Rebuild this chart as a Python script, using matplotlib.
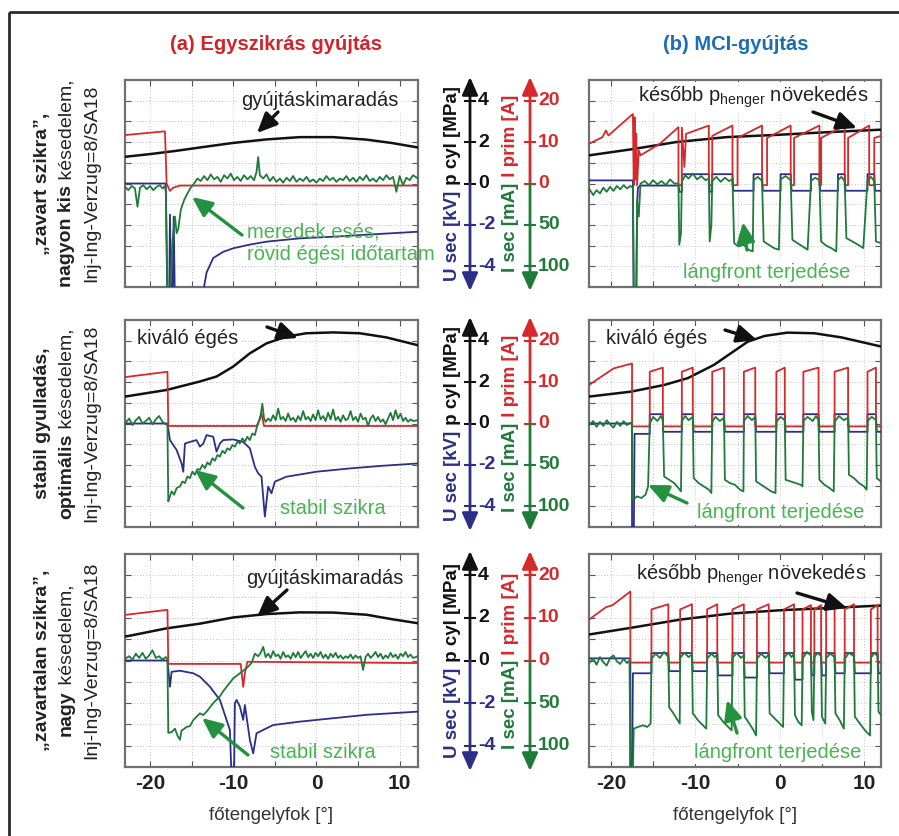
import matplotlib
matplotlib.use("Agg")
import matplotlib.pyplot as plt

plt.rcParams['font.family'] = ['Liberation Sans', 'DejaVu Sans']
plt.rcParams['axes.unicode_minus'] = False
plt.rcParams['mathtext.fontset'] = 'custom'
plt.rcParams['mathtext.rm'] = 'Liberation Sans'

# ---- data: (crank angle [deg], value) ----
# p cyl [MPa], I prim [A], I sec [mA] (down = positive), U sec [kV]

A1_PCYL = [(-23.0, 1.29), (-20.0, 1.42), (-17.0, 1.57), (-14.0, 1.74), (-10.0, 1.96), (-6.0, 2.13),
           (-2.0, 2.24), (2.0, 2.24), (6.0, 2.12), (9.0, 1.96), (12.2, 1.74)]
A1_IPRIM = [(-23.0, 11.7), (-18.2, 12.6), (-18.0, 0.0), (-17.6, -1.8), (-17.2, -1.0), (-16.4, -0.5), (12.2, -0.5)]
A1_ISEC = [(-23.0, 4), (-22.6, 8), (-22.2, 3), (-21.8, 6), (-21.5, 28), (-21.2, 5), (-20.8, 2), (-20.4, 7),
           (-20.0, 3), (-19.6, 8), (-19.2, 4), (-18.8, 2), (-18.5, 6), (-18.2, 3), (-18.1, 10), (-17.9, 130),
           (-17.6, 130), (-17.3, 70), (-17.0, 40), (-16.8, 60), (-16.6, 55), (-16.3, 32), (-15.9, 20),
           (-15.5, 12), (-15.1, 5), (-14.7, 0), (-14.3, -6), (-13.9, -3), (-13.5, -9), (-13.1, -4),
           (-12.7, -11), (-12.3, -5), (-11.9, -8), (-11.5, -2), (-11.1, -10), (-10.7, -6), (-10.3, -12),
           (-9.9, -4), (-9.5, -8), (-9.1, -3), (-8.7, -10), (-8.3, -5), (-7.9, -9), (-7.5, -4), (-7.2, -14),
           (-7.0, -32), (-6.8, -10), (-6.4, -6), (-6.0, -11), (-5.6, -3), (-5.2, -8), (-4.8, -2), (-4.4, -6),
           (-4.0, -1), (-3.6, -7), (-3.2, -3), (-2.8, -9), (-2.4, -2), (-2.0, -6), (-1.6, -3), (-1.2, -8),
           (-0.8, -2), (-0.4, -5), (0.0, -1), (0.4, -6), (0.8, -3), (1.2, -9), (1.6, -4), (2.0, -7), (2.4, -2),
           (2.8, -6), (3.2, -4), (3.6, -9), (4.0, -3), (4.4, -7), (4.8, -2), (5.2, -8), (5.6, -4), (6.0, -10),
           (6.4, -3), (6.8, -6), (7.2, -2), (7.6, -8), (8.0, -4), (8.4, -10), (8.8, -5), (9.2, -8), (9.6, 10),
           (10.0, -9), (10.4, 2), (10.8, -7), (11.2, -4), (11.6, -10), (12.2, -6)]
A1_USEC = [(-23.0, 0.0), (-18.1, 0.0), (-17.9, -6.0), (-17.7, -6.0), (-17.6, -1.5), (-17.45, -6.0), (-17.3, -6.0),
           (-17.15, -1.6), (-17.0, -6.0), (-13.7, -6.0), (-13.6, -5.2), (-13.2, -4.3), (-12.4, -3.6),
           (-11.2, -3.3), (-10.0, -3.13), (-8.0, -2.95), (-6.0, -2.81), (-2.0, -2.65), (2.0, -2.57),
           (7.0, -2.45), (12.2, -2.33)]

A2_PCYL = [(-23.0, 1.30), (-18.0, 1.62), (-14.0, 2.03), (-12.0, 2.27), (-10.0, 2.75), (-8.0, 3.39),
           (-6.0, 3.87), (-3.6, 4.20), (-1.2, 4.36), (2.0, 4.40), (5.2, 4.36), (8.4, 4.16), (12.2, 3.78)]
A2_IPRIM = [(-23.0, 11.2), (-17.9, 12.5), (-17.8, -0.6), (-7.2, -0.6), (-6.8, 1.0), (-6.6, 2.5),
            (-6.3, -0.6), (12.2, -0.6)]
A2_ISEC = [(-23.0, 0), (-22.5, -6), (-22.1, 2), (-21.7, -4), (-21.3, -8), (-20.9, 0), (-20.5, -3), (-20.1, -7),
           (-19.7, 1), (-19.3, -5), (-18.9, -9), (-18.5, -2), (-18.1, 1), (-17.9, 2), (-17.8, 94), (-17.6, 88),
           (-17.4, 82), (-17.1, 86), (-16.8, 78), (-16.4, 76), (-16.1, 70), (-15.8, 72), (-15.5, 64),
           (-15.2, 66), (-14.9, 58), (-14.6, 62), (-14.3, 55), (-14.0, 56), (-13.7, 50), (-13.4, 54),
           (-13.1, 47), (-12.8, 50), (-12.5, 42), (-12.2, 45), (-11.9, 38), (-11.6, 40), (-11.3, 33),
           (-11.0, 36), (-10.7, 30), (-10.4, 32), (-10.1, 26), (-9.8, 28), (-9.5, 22), (-9.2, 24), (-8.9, 18),
           (-8.6, 22), (-8.3, 16), (-8.0, 20), (-7.7, 12), (-7.4, 14), (-7.2, 6), (-7.0, 0), (-6.7, -10),
           (-6.5, -24), (-6.3, -6), (-6.1, -2), (-5.8, -6), (-5.5, -3), (-5.2, -10), (-4.9, -4), (-4.6, -18),
           (-4.3, -5), (-4.0, -8), (-3.7, -3), (-3.4, -12), (-3.1, -4), (-2.8, -7), (-2.5, -2), (-2.2, -9),
           (-1.9, -4), (-1.6, -15), (-1.3, -5), (-1.0, -8), (-0.7, -3), (-0.4, -11), (-0.1, -4), (0.2, -16),
           (0.5, -5), (0.8, -9), (1.1, -3), (1.4, -13), (1.7, -5), (2.0, -17), (2.3, -4), (2.6, -8), (2.9, -2),
           (3.2, -10), (3.5, -4), (3.8, -6), (4.1, -15), (4.4, -4), (4.7, -8), (5.0, -2), (5.3, -12), (5.6, -5),
           (5.9, -7), (6.2, 3), (6.5, -6), (6.8, -10), (7.1, -3), (7.4, -8), (7.7, -2), (8.0, -5), (8.3, 1),
           (8.6, -6), (8.9, -13), (9.2, -4), (9.5, -16), (9.8, -6), (10.1, -12), (10.4, -3), (10.7, -7),
           (11.0, -2), (11.3, -5), (11.6, -3), (12.2, -4)]
A2_USEC = [(-23.0, 0.0), (-17.9, 0.0), (-17.6, -0.80), (-16.8, -1.28), (-16.2, -1.93), (-16.0, -2.33),
           (-15.8, -0.97), (-15.2, -0.89), (-14.4, -0.80), (-14.0, -1.12), (-13.6, -0.97), (-13.2, -0.56),
           (-12.4, -0.64), (-12.0, -1.36), (-11.6, -0.97), (-11.2, -0.80), (-10.0, -0.77), (-8.8, -0.89),
           (-8.0, -1.20), (-7.4, -2.09), (-7.0, -2.41), (-6.6, -2.57), (-6.2, -4.50), (-5.8, -3.05),
           (-5.4, -3.37), (-5.0, -2.81), (-3.6, -2.57), (0.0, -2.33), (4.0, -2.17), (8.0, -2.04), (12.2, -1.93)]

A3_PCYL = [(-23.0, 1.13), (-22.6, 1.15), (-18.0, 1.51), (-14.0, 1.73), (-10.0, 2.02), (-6.0, 2.18),
           (-2.0, 2.26), (2.0, 2.25), (6.0, 2.15), (9.2, 1.93), (12.2, 1.75)]
A3_IPRIM = [(-23.0, 10.7), (-17.9, 11.9), (-17.8, -0.8), (-9.1, -0.8), (-8.8, -6.2), (-8.6, -3.0),
            (-8.3, -0.3), (12.2, -0.6)]
A3_ISEC = [(-23.0, -2), (-22.5, -5), (-22.1, -1), (-21.7, -8), (-21.3, -3), (-20.9, -9), (-20.5, -2),
           (-20.1, -6), (-19.7, -12), (-19.3, -3), (-18.9, -5), (-18.5, -1), (-18.1, -4), (-17.9, -2),
           (-17.8, 85), (-17.4, 84), (-17.0, 80), (-16.7, 88), (-16.4, 93), (-16.2, 82), (-16.0, 81),
           (-15.6, 78), (-15.2, 77), (-14.8, 70), (-14.4, 66), (-14.0, 62), (-13.6, 64), (-13.2, 60),
           (-12.8, 55), (-12.4, 50), (-12.0, 46), (-11.6, 42), (-11.2, 36), (-10.8, 31), (-10.4, 26),
           (-10.0, 21), (-9.6, 18), (-9.2, 15), (-8.8, 12), (-8.4, 9), (-8.1, 6), (-7.8, 3), (-7.4, -8),
           (-7.0, -5), (-6.7, -9), (-6.4, -16), (-6.1, -4), (-5.8, -8), (-5.5, -3), (-5.2, -11), (-4.9, -5),
           (-4.6, -7), (-4.3, -2), (-4.0, -10), (-3.7, -4), (-3.4, -6), (-3.1, -2), (-2.8, -9), (-2.5, -4),
           (-2.2, -10), (-1.9, -3), (-1.6, -7), (-1.3, -11), (-1.0, -4), (-0.7, -8), (-0.4, -3), (-0.1, -9),
           (0.2, -5), (0.5, -10), (0.8, -3), (1.1, -7), (1.4, -2), (1.7, -8), (2.0, -4), (2.3, -9), (2.6, -3),
           (2.9, -6), (3.2, -2), (3.5, -5), (3.8, -3), (4.1, -7), (4.4, -2), (4.7, -6), (5.0, -3), (5.3, -5),
           (5.6, 11), (5.9, -4), (6.2, -8), (6.5, -3), (6.8, -6), (7.1, -10), (7.4, -4), (7.7, -8), (8.0, -2),
           (8.3, -6), (8.6, -3), (8.9, -9), (9.2, -4), (9.5, -7), (9.8, -2), (10.1, -8), (10.4, -5),
           (10.7, -10), (11.0, -4), (11.3, -7), (11.6, -3), (12.2, -5)]
A3_USEC = [(-23.0, 0.0), (-17.9, 0.0), (-17.6, -1.23), (-17.4, -0.53), (-16.4, -0.48), (-14.8, -0.60),
           (-14.0, -0.76), (-12.8, -1.23), (-11.6, -1.85), (-10.8, -2.79), (-10.4, -3.26), (-10.2, -5.5),
           (-9.9, -5.5), (-9.8, -2.01), (-9.6, -1.85), (-9.2, -2.16), (-8.8, -2.79), (-8.6, -2.09),
           (-8.4, -2.63), (-8.0, -3.73), (-7.6, -4.36), (-7.2, -3.42), (-6.4, -3.26), (-5.2, -3.03),
           (-2.0, -2.87), (2.0, -2.71), (6.0, -2.55), (12.2, -2.40)]

B1_PCYL = [(-22.6, 1.36), (-17.6, 1.65), (-12.3, 2.00), (-6.3, 2.24), (-0.3, 2.35), (5.7, 2.48), (12.0, 2.60)]
B1_IPRIM = [(-22.6, 9.6), (-21.0, 11.2), (-20.6, 12.8), (-20.3, 11.6), (-17.4, 16.8), (-17.3, -0.4),
            (-17.2, 16.0), (-17.1, 1.0), (-17.0, 12.0), (-16.9, -0.4), (-16.7, 8.0), (-16.5, 6.8),
            (-14.2, 9.6), (-12.0, 13.6), (-12.0, -0.4), (-11.6, -0.4), (-11.6, 13.5), (-11.3, 4.0),
            (-11.1, 12.0), (-8.4, 14.0), (-8.4, -0.4), (-8.0, -0.4), (-8.0, 11.5), (-5.6, 14.0), (-5.6, -0.4),
            (-5.0, -0.4), (-5.0, 11.0), (-2.1, 14.0), (-2.1, -0.4), (-1.5, -0.4), (-1.5, 11.0), (1.3, 14.0),
            (1.3, -0.4), (1.7, -0.4), (1.7, 11.0), (4.7, 14.0), (4.7, -0.4), (4.9, -0.4), (4.9, 11.0),
            (7.7, 14.0), (7.7, -0.4), (8.1, -0.4), (8.1, 11.0), (10.6, 14.0), (10.6, -0.4), (11.2, -0.4),
            (11.2, 11.0), (12.0, 11.5)]
B1_ISEC = [(-22.6, 6), (-22.1, 14), (-21.7, 8), (-21.3, 12), (-20.9, 5), (-20.5, 10), (-20.1, 4), (-19.7, 9),
           (-19.3, 3), (-18.9, 7), (-18.5, 2), (-18.1, 6), (-17.7, 3), (-17.4, 5), (-17.3, 130), (-17.0, 130),
           (-16.9, 20), (-16.7, 40), (-16.5, 0), (-16.0, -3), (-15.5, 2), (-15.0, -4), (-14.5, 1), (-14.0, -3),
           (-13.5, 2), (-13.0, -5), (-12.5, 0), (-12.0, 0), (-11.9, 74), (-11.7, 60), (-11.6, -2),
           (-11.2, -10), (-10.8, -6), (-10.3, -12), (-9.8, -5), (-9.3, -9), (-8.8, -4), (-8.4, -6),
           (-8.3, 70), (-8.1, 50), (-8.0, -3), (-7.5, -8), (-7.0, -2), (-6.5, -7), (-6.0, -3), (-5.6, -5),
           (-5.4, 72), (-4.9, 76), (-4.3, 74), (-3.7, 80), (-3.2, 82), (-3.1, -4), (-2.6, -8), (-2.1, -3),
           (-1.9, 70), (-1.3, 74), (-0.7, 78), (-0.1, 80), (0.1, -5), (0.7, -9), (1.3, -4), (1.5, 68),
           (2.1, 72), (2.7, 76), (3.3, 80), (3.7, -3), (4.2, -7), (4.7, -4), (4.9, 70), (5.5, 75), (6.1, 78),
           (6.7, 82), (6.9, -4), (7.3, -8), (7.7, -3), (7.9, 66), (8.6, 70), (9.3, 74), (9.9, 78), (10.4, -4),
           (10.8, -8), (11.2, -3), (11.4, 70), (12.0, 72)]
B1_USEC = [(-22.6, 0.15), (-17.4, 0.15), (-17.3, -6.0), (-17.0, -6.0), (-16.9, -1.0), (-16.8, -0.2),
           (-16.5, -0.1), (-12.0, -0.1), (-11.9, -0.4), (-11.6, -0.4), (-11.6, 0.45), (-8.4, 0.45),
           (-8.3, -0.4), (-8.0, -0.4), (-8.0, 0.45), (-5.6, 0.45), (-5.5, -0.35), (-3.1, -0.35), (-3.1, 0.45),
           (-2.1, 0.45), (-2.0, -0.35), (0.1, -0.35), (0.1, 0.45), (1.3, 0.45), (1.4, -0.35), (3.7, -0.35),
           (3.7, 0.45), (4.7, 0.45), (4.8, -0.35), (6.9, -0.35), (6.9, 0.45), (7.7, 0.45), (7.8, -0.35),
           (10.4, -0.35), (10.4, 0.45), (11.2, 0.45), (11.3, -0.35), (12.0, -0.35)]

B2_PCYL = [(-22.6, 1.30), (-17.6, 1.54), (-13.7, 1.86), (-10.9, 2.19), (-7.8, 2.83), (-5.8, 3.39),
           (-3.8, 3.95), (-1.8, 4.23), (0.9, 4.39), (4.1, 4.36), (7.3, 4.16), (12.0, 3.72)]
B2_IPRIM = [(-22.6, 9.3), (-19.7, 13.3), (-17.5, 14.5), (-17.5, -0.7), (-15.4, -0.7), (-15.4, 12.5),
            (-13.85, 13.5), (-13.85, -0.7), (-11.6, -0.7), (-11.6, 12.5), (-10.3, 13.5), (-10.3, -0.7),
            (-8.0, -0.7), (-8.0, 12.5), (-6.6, 13.5), (-6.6, -0.7), (-4.25, -0.7), (-4.25, 12.5), (-2.9, 13.5),
            (-2.9, -0.7), (-0.4, -0.7), (-0.4, 12.5), (0.6, 13.5), (0.6, -0.7), (2.8, -0.7), (2.8, 12.5),
            (4.6, 13.5), (4.6, -0.7), (6.5, -0.7), (6.5, 12.5), (8.1, 13.5), (8.1, -0.7), (10.4, -0.7),
            (10.4, 12.5), (11.4, 13.5), (11.4, -0.7), (12.0, -0.7)]
B2_ISEC = [(-22.6, 2), (-22.1, -3), (-21.7, 4), (-21.3, -2), (-20.9, 3), (-20.5, -4), (-20.1, 1), (-19.7, 5),
           (-19.3, -2), (-18.9, 3), (-18.5, -3), (-18.1, 2), (-17.7, -1), (-17.5, 0), (-17.4, 92), (-16.9, 88),
           (-16.4, 90), (-15.9, 86), (-15.6, 76), (-15.4, 0), (-15.0, -8), (-14.5, -3), (-14.1, -9),
           (-13.85, -4), (-13.7, 64), (-13.1, 68), (-12.5, 72), (-12.0, 78), (-11.7, 82), (-11.6, -3),
           (-11.2, -9), (-10.8, -4), (-10.3, -8), (-10.2, 66), (-9.6, 72), (-9.0, 76), (-8.4, 80), (-8.1, 84),
           (-8.0, -2), (-7.6, -8), (-7.1, -3), (-6.6, -7), (-6.5, 68), (-5.9, 72), (-5.3, 74), (-4.7, 80),
           (-4.3, 82), (-4.25, -3), (-3.8, -9), (-3.3, -4), (-2.9, -8), (-2.8, 70), (-2.2, 74), (-1.6, 78),
           (-1.0, 82), (-0.5, 84), (-0.4, -2), (0.1, -8), (0.6, -4), (0.7, 68), (1.3, 70), (1.9, 72), (2.5, 74),
           (2.7, 76), (2.8, -3), (3.3, -8), (3.9, -3), (4.3, -9), (4.6, -4), (4.7, 68), (5.3, 74), (5.9, 78),
           (6.4, 82), (6.5, -2), (7.0, -9), (7.6, -4), (8.1, -7), (8.2, 62), (8.8, 66), (9.4, 72), (10.0, 76),
           (10.3, 80), (10.4, -3), (10.9, -8), (11.4, -4), (11.5, 66), (12.0, 70)]
B2_USEC = [(-22.6, 0.0), (-17.5, 0.0), (-17.5, -6.0), (-17.3, -6.0), (-17.2, -0.5), (-15.4, -0.5),
           (-15.4, 0.45), (-13.85, 0.45), (-13.8, -0.4), (-11.6, -0.4), (-11.6, 0.45), (-10.3, 0.45),
           (-10.2, -0.4), (-8.0, -0.4), (-8.0, 0.45), (-6.6, 0.45), (-6.5, -0.4), (-4.25, -0.4), (-4.25, 0.45),
           (-2.9, 0.45), (-2.8, -0.4), (-0.4, -0.4), (-0.4, 0.45), (0.6, 0.45), (0.7, -0.4), (2.8, -0.4),
           (2.8, 0.45), (4.6, 0.45), (4.7, -0.4), (6.5, -0.4), (6.5, 0.45), (8.1, 0.45), (8.2, -0.4),
           (10.4, -0.4), (10.4, 0.45), (11.4, 0.45), (11.5, -0.4), (12.0, -0.4)]

B3_PCYL = [(-22.6, 1.22), (-17.7, 1.53), (-11.8, 1.92), (-5.9, 2.20), (0.1, 2.36), (6.1, 2.47), (12.0, 2.58)]
B3_IPRIM = [(-22.6, 9.6), (-20.6, 12.5), (-19.8, 13.0), (-17.7, 16.2), (-17.7, -0.5), (-15.2, -0.5),
            (-15.2, 12.0), (-13.2, 13.2), (-13.2, -0.5), (-11.8, -0.5), (-11.8, 12.0), (-10.4, 13.2),
            (-10.4, -0.5), (-8.6, -0.5), (-8.6, 12.0), (-7.4, 13.2), (-7.4, -0.5), (-5.6, -0.5), (-5.6, 12.0),
            (-4.25, 13.2), (-4.25, -0.5), (-2.7, -0.5), (-2.7, 12.0), (-1.3, 13.2), (-1.3, -0.5), (0.5, -0.5),
            (0.5, 12.0), (1.7, 13.2), (1.7, -0.5), (2.7, -0.5), (2.7, 12.0), (3.7, 13.0), (3.7, -0.5),
            (4.1, -0.5), (4.1, 12.0), (4.9, 13.0), (4.9, -0.5), (5.5, -0.5), (5.5, 12.0), (6.5, 13.2),
            (6.5, -0.5), (7.7, -0.5), (7.7, 12.0), (8.8, 13.2), (8.8, -0.5), (10.8, -0.5), (10.8, 12.0),
            (11.6, 13.0), (11.6, -0.5), (12.0, -0.5)]
B3_ISEC = [(-22.6, 3), (-22.1, -2), (-21.7, 5), (-21.3, -4), (-20.9, 2), (-20.5, 6), (-20.1, -3), (-19.7, -6),
           (-19.3, 1), (-18.9, 4), (-18.5, -2), (-18.1, 3), (-17.8, 0), (-17.7, 130), (-17.4, 130),
           (-17.3, 80), (-16.8, 78), (-16.2, 76), (-15.7, 78), (-15.3, 74), (-15.2, -2), (-14.7, -8),
           (-14.2, -3), (-13.7, -10), (-13.2, -4), (-13.1, 55), (-12.6, 62), (-12.1, 70), (-11.85, 74),
           (-11.8, -3), (-11.3, -9), (-10.8, -4), (-10.4, -7), (-10.3, 62), (-9.7, 70), (-9.1, 76), (-8.7, 80),
           (-8.6, -2), (-8.1, -8), (-7.7, -4), (-7.4, -7), (-7.3, 64), (-6.7, 72), (-6.1, 78), (-5.7, 82),
           (-5.6, -3), (-5.1, -9), (-4.6, -3), (-4.25, -6), (-4.15, 66), (-3.6, 74), (-3.1, 82), (-2.8, 88),
           (-2.7, -2), (-2.2, -8), (-1.7, -3), (-1.3, -7), (-1.2, 62), (-0.6, 68), (0.0, 74), (0.4, 78),
           (0.5, -3), (1.0, -9), (1.4, -4), (1.7, -8), (1.8, 64), (2.2, 72), (2.6, 76), (2.7, -2), (3.2, -10),
           (3.7, -6), (3.8, 60), (4.0, 70), (4.1, -4), (4.5, -9), (4.9, -5), (5.0, 66), (5.4, 74), (5.5, -3),
           (6.0, -8), (6.5, -4), (6.6, 62), (7.1, 70), (7.6, 80), (7.7, -2), (8.2, -9), (8.8, -5), (8.9, 66),
           (9.5, 74), (10.1, 82), (10.7, 88), (10.8, -3), (11.2, -9), (11.6, -5), (11.7, 60), (12.0, 64)]
B3_USEC = [(-22.6, 0.1), (-17.7, 0.1), (-17.7, -6.0), (-17.5, -6.0), (-17.4, -0.6), (-15.2, -0.6),
           (-15.2, 0.35), (-13.2, 0.35), (-13.1, -0.5), (-11.8, -0.5), (-11.8, 0.35), (-10.4, 0.35),
           (-10.3, -0.5), (-8.6, -0.5), (-8.6, 0.35), (-7.4, 0.35), (-7.3, -0.7), (-5.6, -0.7), (-5.6, 0.35),
           (-4.25, 0.35), (-4.15, -0.8), (-2.7, -0.8), (-2.7, 0.35), (-1.3, 0.35), (-1.2, -0.6), (0.5, -0.6),
           (0.5, 0.35), (1.7, 0.35), (1.8, -0.9), (2.7, -0.9), (2.7, 0.35), (3.7, 0.35), (3.8, -0.7),
           (4.1, -0.7), (4.1, 0.35), (4.9, 0.35), (5.0, -0.7), (5.5, -0.7), (5.5, 0.35), (6.5, 0.35),
           (6.6, -0.6), (7.7, -0.6), (7.7, 0.35), (8.8, 0.35), (8.9, -0.6), (10.8, -0.6), (10.8, 0.35),
           (11.6, 0.35), (11.7, -0.6), (12.0, -0.6)]

# middle scale ticks
P_TICKS = [4, 2, 0]
U_TICKS = [-2, -4]
IP_TICKS = [20, 10, 0]
IS_TICKS = [50, 100]
X_TICKS = [-20, -15, -10, -5, 0, 5, 10]
X_LABELS = ['-20', '', '-10', '', '0', '', '10']

RED = '#d42a2c'
GREEN = '#1f7a3a'
BLUE = '#2c2f88'
BLACK = '#111111'
TXT_GREEN = '#48b552'
ARR_GREEN = '#23913f'
GREY = '#222222'

W, H = 899, 836
fig = plt.figure(figsize=(W / 100, H / 100), dpi=100)

ROWS = [(80, 287), (320, 527), (554, 767)]
COLS = [(125, 418, (-23.0, 12.2)), (589, 881, (-22.6, 12.0))]
PANELS = [[(A1_PCYL, A1_IPRIM, A1_ISEC, A1_USEC), (B1_PCYL, B1_IPRIM, B1_ISEC, B1_USEC)],
          [(A2_PCYL, A2_IPRIM, A2_ISEC, A2_USEC), (B2_PCYL, B2_IPRIM, B2_ISEC, B2_USEC)],
          [(A3_PCYL, A3_IPRIM, A3_ISEC, A3_USEC), (B3_PCYL, B3_IPRIM, B3_ISEC, B3_USEC)]]


def xy(pairs, scale):
    return [p[0] for p in pairs], [p[1] * scale for p in pairs]


for r, (top, bot) in enumerate(ROWS):
    for c, (left, right, xlim) in enumerate(COLS):
        ax = fig.add_axes([left / W, 1 - bot / H, (right - left) / W, (bot - top) / H])
        pcyl, iprim, isec, usec = PANELS[r][c]
        ax.plot(*xy(pcyl, 1.0), color=BLACK, lw=1.8, zorder=3)
        ax.plot(*xy(usec, 1.0), color=BLUE, lw=1.3, zorder=4)
        ax.plot(*xy(iprim, 1 / 5), color=RED, lw=1.3, zorder=5)
        ax.plot(*xy(isec, -1 / 25), color=GREEN, lw=1.3, zorder=6)
        ax.set_xlim(*xlim)
        ax.set_ylim(-5, 5)
        ax.set_xticks(X_TICKS)
        ax.set_yticks(range(-4, 5))
        ax.grid(True, color='#b5b5b5', lw=0.6, ls=(0, (1, 2.5)))
        ax.tick_params(direction='in', length=4, width=0.8, color='#555555', top=True, right=True,
                       labelleft=False, labelbottom=(r == 2), pad=5)
        if r == 2:
            ax.set_xticklabels(X_LABELS, fontsize=15, fontweight='bold', color=GREY)
        for s in ax.spines.values():
            s.set_color('#707070')
            s.set_linewidth(1.6)

# overlay in pixel coordinates (y downwards)
ov = fig.add_axes([0, 0, 1, 1])
ov.set_xlim(0, W)
ov.set_ylim(H, 0)
ov.axis('off')

ov.plot([9, W], [12, 12], color='#2a2a2a', lw=2, solid_capstyle='butt')
ov.plot([9, 9], [12, H], color='#2a2a2a', lw=2, solid_capstyle='butt')

ov.text(276, 45, '(a) Egyszikrás gyújtás', ha='center', va='center', fontsize=14.5,
        fontweight='bold', color='#d2232a')
ov.text(736, 45, '(b) MCI-gyújtás', ha='center', va='center', fontsize=14.5,
        fontweight='bold', color='#1a6eb4')
for cx in (271, 735):
    ov.text(cx, 815, 'főtengelyfok [°]', ha='center', va='center', fontsize=13.5, color='#333333')

renderer = fig.canvas.get_renderer()


def vtext(x, yc, pieces, size):
    lens = []
    for s, col, wgt in pieces:
        t = ov.text(0, 0, s, fontsize=size, fontweight=wgt, rotation=90)
        lens.append(t.get_window_extent(renderer).height)
        t.remove()
    y = yc + sum(lens) / 2
    for (s, col, wgt), L in zip(pieces, lens):
        ov.text(x, y, s, fontsize=size, fontweight=wgt, color=col, rotation=90,
                rotation_mode='anchor', ha='left', va='baseline')
        y -= L


ROW_LABELS = [
    [[('„zavart szikra”,', 'bold')], [('nagyon kis', 'bold'), (' késedelem,', 'normal')],
     [('Inj-Ing-Verzug=8/SA18', 'normal')]],
    [[('stabil gyulladás,', 'bold')], [('optimális', 'bold'), (' késedelem,', 'normal')],
     [('Inj-Ing-Verzug=8/SA18', 'normal')]],
    [[('„zavartalan szikra”,', 'bold')], [('nagy', 'bold'), (' késedelem,', 'normal')],
     [('Inj-Ing-Verzug=8/SA18', 'normal')]],
]

arrow_kw = dict(arrowstyle='-|>,head_width=0.4,head_length=0.9', lw=2, shrinkA=0, shrinkB=0,
                mutation_scale=12)

for r, (top, bot) in enumerate(ROWS):
    yc = (top + bot) / 2
    for i, line in enumerate(ROW_LABELS[r]):
        vtext([47, 71, 96][i], yc, [(s, GREY, w) for s, w in line], 14)

    def ypx(v):
        return top + (5 - v) * (bot - top) / 10

    # middle scales
    ov.annotate('', xy=(470, top - 3), xytext=(470, ypx(0)), arrowprops=dict(color=BLACK, **arrow_kw))
    ov.annotate('', xy=(470, bot + 4), xytext=(470, ypx(0)), arrowprops=dict(color=BLUE, **arrow_kw))
    ov.annotate('', xy=(530, top - 3), xytext=(530, ypx(0)), arrowprops=dict(color=RED, **arrow_kw))
    ov.annotate('', xy=(530, bot + 4), xytext=(530, ypx(0)), arrowprops=dict(color=GREEN, **arrow_kw))
    for v in P_TICKS:
        ov.plot([465, 475], [ypx(v)] * 2, color=BLACK, lw=1.5)
        ov.text(478, ypx(v), str(v), ha='left', va='center', fontsize=14, fontweight='bold', color=BLACK)
    for v in U_TICKS:
        ov.plot([465, 475], [ypx(v)] * 2, color=BLUE, lw=1.5)
        ov.text(478, ypx(v), str(v), ha='left', va='center', fontsize=14, fontweight='bold', color=BLUE)
    for v in IP_TICKS:
        ov.plot([525, 535], [ypx(v / 5)] * 2, color=RED, lw=1.5)
        ov.text(538, ypx(v / 5), str(v), ha='left', va='center', fontsize=14, fontweight='bold', color=RED)
    for v in IS_TICKS:
        ov.plot([525, 535], [ypx(-v / 25)] * 2, color=GREEN, lw=1.5)
        ov.text(538, ypx(-v / 25), str(v), ha='left', va='center', fontsize=14, fontweight='bold',
                color=GREEN)
    vtext(457, yc, [('U sec [kV]', BLUE, 'bold'), (' p cyl [MPa]', BLACK, 'bold')], 13.5)
    vtext(515, yc, [('I sec [mA]', GREEN, 'bold'), (' I prim [A]', RED, 'bold')], 13.5)


def note(s, x, y, color, box=True, ha='center'):
    ov.text(x, y, s, ha=ha, va='center', fontsize=14.5, color=color, zorder=6, linespacing=1.25,
            bbox=dict(fc='white', ec='none', pad=1.5) if box else None)


def arrow(tail, tip, color, lw=2.4):
    ov.annotate('', xy=tip, xytext=tail,
                arrowprops=dict(arrowstyle='-|>,head_width=0.45,head_length=1.0', color=color, lw=lw,
                                shrinkA=0, shrinkB=0, mutation_scale=12), zorder=7)


# row 1
note('gyújtáskimaradás', 320, 100, GREY)
arrow((278, 112), (257, 133), BLACK)
note('meredek esés,\nrövid égési időtartam', 247, 243, TXT_GREEN, box=False, ha='left')
arrow((242, 235), (192, 197), ARR_GREEN)
note('később p$_{\\mathrm{henger}}$ növekedés', 753, 97, GREY)
arrow((813, 112), (857, 128), BLACK)
note('lángfront terjedése', 767, 272, TXT_GREEN)
arrow((747, 250), (743, 222), ARR_GREEN)
# row 2
note('kiváló égés', 188, 338, GREY)
arrow((267, 327), (298, 338), BLACK)
note('stabil szikra', 333, 508, TXT_GREEN, box=False)
arrow((243, 508), (195, 470), ARR_GREEN)
note('kiváló égés', 657, 338, GREY)
arrow((725, 330), (757, 340), BLACK)
note('lángfront terjedése', 781, 513, TXT_GREEN)
arrow((687, 503), (648, 485), ARR_GREEN)
# row 3
note('gyújtáskimaradás', 325, 578, GREY)
arrow((287, 590), (257, 617), BLACK)
note('stabil szikra', 323, 752, TXT_GREEN, box=False)
arrow((248, 755), (202, 718), ARR_GREEN)
note('később p$_{\\mathrm{henger}}$ növekedés', 751, 575, GREY)
arrow((797, 593), (847, 608), BLACK)
note('lángfront terjedése', 778, 752, TXT_GREEN)
arrow((737, 733), (727, 700), ARR_GREEN)

fig.savefig('out.png', dpi=100)
